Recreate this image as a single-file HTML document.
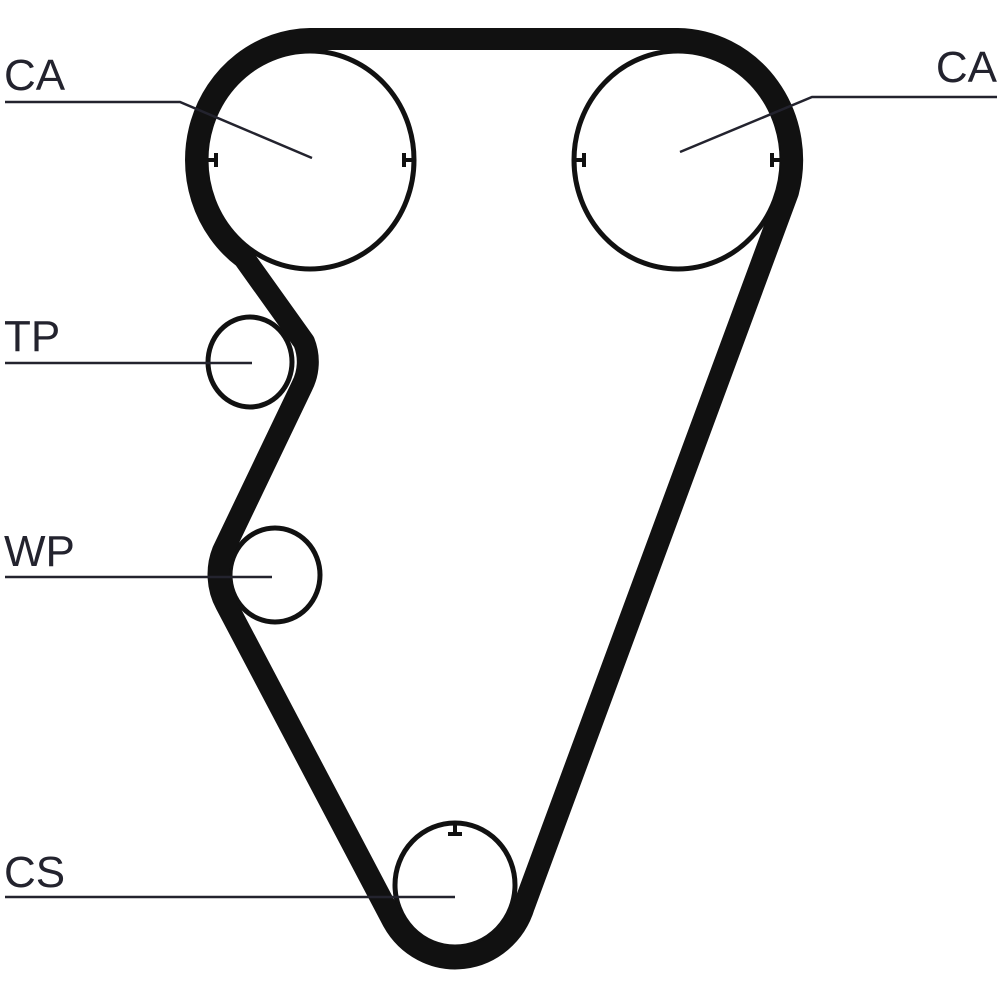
<!DOCTYPE html>
<html><head><meta charset="utf-8"><style>
html,body{margin:0;padding:0;background:#fff;}
svg{display:block;}
text{font-family:"Liberation Sans",sans-serif;font-size:44px;fill:#23232e;}
</style></head><body>
<svg width="1000" height="1000" viewBox="0 0 1000 1000">
<g fill="none" stroke="#111" stroke-width="5">
<ellipse cx="310" cy="160" rx="104" ry="109"/>
<ellipse cx="678" cy="160" rx="104" ry="109"/>
<ellipse cx="250" cy="362" rx="42" ry="45"/>
<ellipse cx="275" cy="575" rx="45" ry="47"/>
<ellipse cx="455" cy="885" rx="60" ry="62"/>
</g>
<path d="M310,39 L678,39 A116,121 0 0 1 788,192 L524,906 A72,75 0 0 1 393,921 L226,604 A57,60 0 0 1 223,551 L302,386 A57,55 0 0 0 304,342 L244,258 A116,121 0 0 1 310,39 Z" fill="none" stroke="#111" stroke-width="22" stroke-linejoin="round"/>
<g stroke="#111" stroke-width="4" fill="none">
<line x1="206" y1="160" x2="218" y2="160"/><line x1="216" y1="153" x2="216" y2="167"/>
<line x1="402" y1="160" x2="414" y2="160"/><line x1="404" y1="153" x2="404" y2="167"/>
<line x1="574" y1="160" x2="586" y2="160"/><line x1="584" y1="153" x2="584" y2="167"/>
<line x1="770" y1="160" x2="782" y2="160"/><line x1="772" y1="153" x2="772" y2="167"/>
<line x1="455" y1="824" x2="455" y2="836"/><line x1="448" y1="834" x2="462" y2="834"/>
</g>
<g stroke="#23232e" stroke-width="2.5" fill="none">
<polyline points="5,102 180,102 312,158"/>
<polyline points="997,97 812,97 680,152"/>
<line x1="5" y1="363" x2="252" y2="363"/>
<line x1="5" y1="577" x2="272" y2="577"/>
<line x1="5" y1="897" x2="455" y2="897"/>
</g>
<text x="4" y="90">CA</text>
<text x="997" y="82" text-anchor="end">CA</text>
<text x="4" y="351">TP</text>
<text x="4" y="566">WP</text>
<text x="4" y="887">CS</text>
</svg>
</body></html>
